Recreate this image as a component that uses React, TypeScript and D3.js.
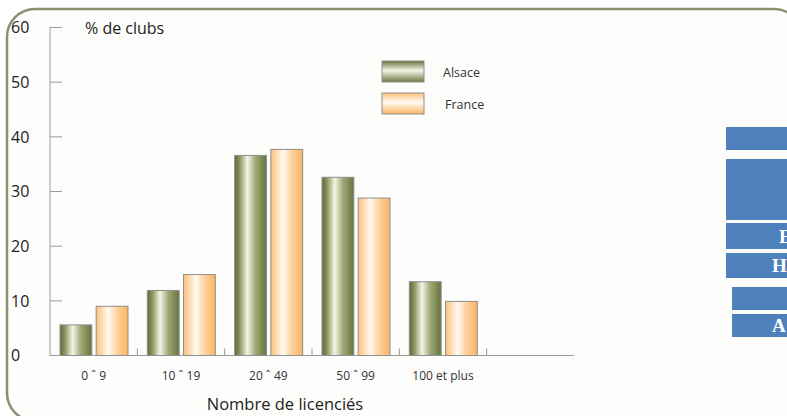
// Répartition des clubs par nombre de licenciés : Alsace vs France
import React from 'react';
import * as d3 from 'd3';

const categories = ['0 ˆ 9', '10 ˆ 19', '20 ˆ 49', '50 ˆ 99', '100 et plus', ''];
const series = ['Alsace', 'France'];
const alsaceValues = [5.6, 11.9, 36.6, 32.6, 13.5];
const franceValues = [9.0, 14.8, 37.7, 28.8, 9.9];
const yTicks = [0, 10, 20, 30, 40, 50, 60];
// side panel (cut-off slide content on the right)
const sideBoxes = [
  { y: 127, h: 23, x: 726, label: '' },
  { y: 159, h: 61, x: 726, label: '' },
  { y: 223, h: 26, x: 726, label: 'E' },
  { y: 253, h: 25, x: 726, label: 'H' },
  { y: 287, h: 23, x: 732, label: '' },
  { y: 314, h: 23, x: 732, label: 'A' },
];

const W = 787;
const H = 416;
const font = '"Open Sans", Lato, sans-serif';

const App: React.FC = () => {
  const x = d3.scaleBand().domain(categories.map((_, i) => String(i))).range([50, 574]);
  const inner = d3.scaleBand().domain(series).range([10, 78]).paddingInner(0.12);
  const y = d3.scaleLinear().domain([0, 60]).range([355.5, 27.5]);

  const rows = alsaceValues.map((a, i) => ({ i, Alsace: a, France: franceValues[i] }));
  const fills: Record<string, string> = { Alsace: 'url(#gAlsace)', France: 'url(#gFrance)' };

  return (
    <svg width={W} height={H} style={{ position: 'absolute', left: 0, top: 0 }}>
      <defs>
        <linearGradient id="gAlsace" x1="0" x2="1" y1="0" y2="0">
          <stop offset="0" stopColor="#5f6a35" />
          <stop offset="0.15" stopColor="#87925c" />
          <stop offset="0.4" stopColor="#f4f5e6" />
          <stop offset="0.65" stopColor="#a0aa78" />
          <stop offset="1" stopColor="#67733c" />
        </linearGradient>
        <linearGradient id="gFrance" x1="0" x2="1" y1="0" y2="0">
          <stop offset="0" stopColor="#fcc07c" />
          <stop offset="0.15" stopColor="#fdd5a6" />
          <stop offset="0.38" stopColor="#fffaf2" />
          <stop offset="0.65" stopColor="#fed2a0" />
          <stop offset="1" stopColor="#fbb463" />
        </linearGradient>
        <linearGradient id="gAlsaceLeg" x1="0" x2="0" y1="0" y2="1">
          <stop offset="0" stopColor="#66713c" />
          <stop offset="0.45" stopColor="#f4f5e6" />
          <stop offset="1" stopColor="#6f7b43" />
        </linearGradient>
        <linearGradient id="gFranceLeg" x1="0" x2="0" y1="0" y2="1">
          <stop offset="0" stopColor="#fcc07c" />
          <stop offset="0.45" stopColor="#fffaf2" />
          <stop offset="1" stopColor="#fbb463" />
        </linearGradient>
      </defs>

      <rect x={0} y={0} width={W} height={H} fill="#ffffff" />
      <rect x={7} y={9} width={795} height={412} rx={28} fill="#fdfdfb" stroke="#8b9070" strokeWidth={2.5} />

      {/* y axis */}
      <line x1={50} x2={50} y1={y(60)} y2={y(0)} stroke="#9a9a9a" strokeWidth={1} />
      {yTicks.map(t => (
        <g key={t}>
          {t > 0 && <line x1={50} x2={62} y1={y(t)} y2={y(t)} stroke="#9a9a9a" strokeWidth={1} />}
          <text x={11} y={y(t)} dy="0.36em" fontSize={16} fill="#222" fontFamily={font}>{t}</text>
        </g>
      ))}
      <text x={85} y={34} fontSize={16} fill="#222" fontFamily={font}>% de clubs</text>

      {/* x axis */}
      <line x1={50} x2={574} y1={y(0)} y2={y(0)} stroke="#9a9a9a" strokeWidth={1} />
      {categories.slice(1).map((_, k) => {
        const xx = x(String(k + 1))!;
        return <line key={k} x1={xx} x2={xx} y1={y(0)} y2={y(0) - 7} stroke="#9a9a9a" strokeWidth={1} />;
      })}
      {categories.map((c, i) => (
        <text key={c + i} x={x(String(i))! + x.bandwidth() / 2} y={380} textAnchor="middle"
          fontSize={12} fill="#333" fontFamily={font}>{c}</text>
      ))}
      <text x={285} y={410} textAnchor="middle" fontSize={16.5} fill="#222" fontFamily={font}>Nombre de licenciés</text>

      {/* bars */}
      {rows.map(r => (
        <g key={r.i} transform={`translate(${x(String(r.i))},0)`}>
          {series.map(s => {
            const v = (r as any)[s] as number;
            return (
              <rect key={s} x={inner(s)} width={inner.bandwidth()} y={y(v)} height={y(0) - y(v)}
                fill={fills[s]} stroke="#8f8f8f" strokeWidth={1} />
            );
          })}
        </g>
      ))}

      {/* legend */}
      {series.map((s, i) => (
        <g key={s} transform={`translate(382,${61 + i * 32})`}>
          <rect width={42} height={21} fill={s === 'Alsace' ? 'url(#gAlsaceLeg)' : 'url(#gFranceLeg)'} stroke="#8f8f8f" />
          <text x={i === 0 ? 61 : 63} y={15.5} fontSize={12.5} fill="#333" fontFamily={font}>{s}</text>
        </g>
      ))}

      {/* side panel boxes */}
      {sideBoxes.map((b, i) => (
        <g key={i}>
          <rect x={b.x} y={b.y} width={W - b.x} height={b.h} fill="#4f81bd" />
          {b.label && (
            <text x={b.label === 'E' ? 779 : 772} y={b.y + b.h / 2} dy="0.36em" fontSize={19} fontWeight="bold"
              fill="#ffffff" fontFamily='"Liberation Serif", serif'>{b.label}</text>
          )}
        </g>
      ))}
    </svg>
  );
};

export default App;
